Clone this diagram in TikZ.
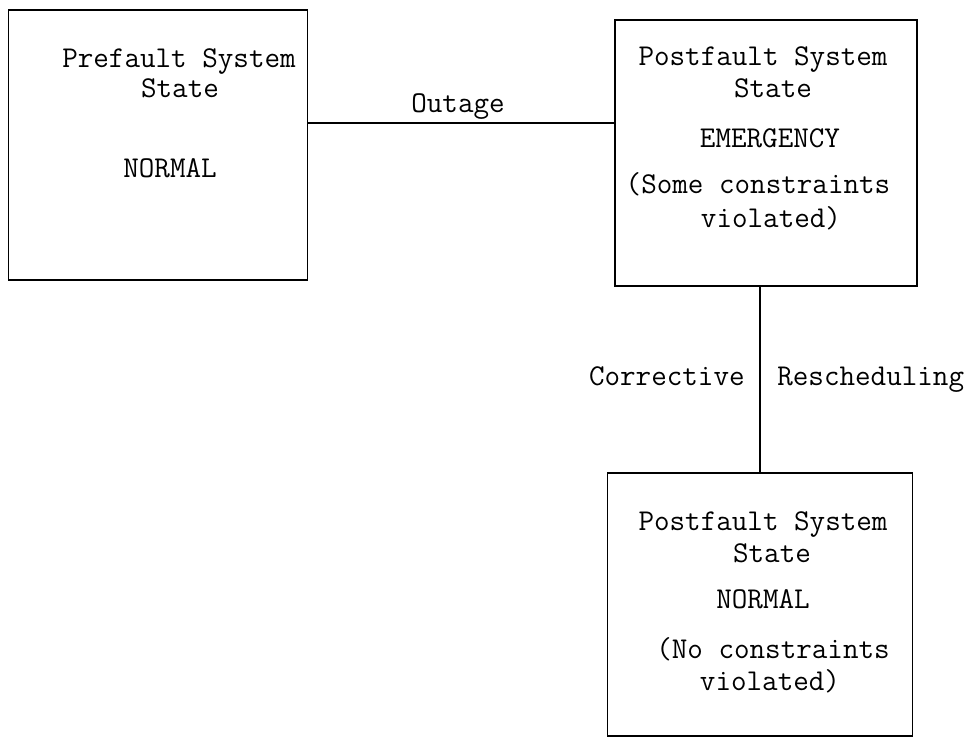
\documentclass[tikz,border=0pt]{standalone}
\usepackage{fontspec}
\usetikzlibrary{positioning}
\tikzset{
  statebox/.style={draw, line width=0.9pt, inner sep=0pt},
  txt/.style={font=\ttfamily\fontsize{17.2}{19}\selectfont, anchor=base, inner sep=0pt}
}
\begin{document}
\begin{tikzpicture}[x=0.02cm,y=-0.02cm]
\useasboundingbox (0,0) rectangle (976,738);
% the three boxes
\node[statebox, minimum width=5.98cm, minimum height=5.4cm] (pre) at (158,145) {};
\node[statebox, minimum width=6.04cm, minimum height=5.32cm] (emerg) at (766,153) {};
\node[statebox, minimum width=6.1cm, minimum height=5.26cm] (post) at (760,604.5) {};
% box texts
\node[txt] (preA) at (179,67) {Prefault System};
\node[txt] (preB) at (180,97) {State};
\node[txt] (preC) at (170,177) {NORMAL};
\node[txt] (emA) at (763,65) {Postfault System};
\node[txt] (emB) at (773,97) {State};
\node[txt] (emC) at (770,147) {EMERGENCY};
\node[txt] (emD) at (758,193) {(Some constraints};
\node[txt] (emE) at (771,227) {violated)};
\node[txt] (poA) at (763,530) {Postfault System};
\node[txt] (poB) at (772,562) {State};
\node[txt] (poC) at (763,608) {NORMAL};
\node[txt] (poD) at (773,658) {(No constraints};
\node[txt] (poE) at (770,690) {violated)};
% connectors
\coordinate (outy) at (0,123);
\draw[line width=0.9pt] (pre.east |- outy) -- (emerg.west |- outy);
\node[txt] (outage) at (458,112) {Outage};
\draw[line width=0.9pt] (emerg.south -| post.north) -- (post.north);
\node[txt, anchor=base east] (corr) at (745,385) {Corrective};
\node[txt, anchor=base west] (resch) at (777,385) {Rescheduling};
\end{tikzpicture}
\end{document}
